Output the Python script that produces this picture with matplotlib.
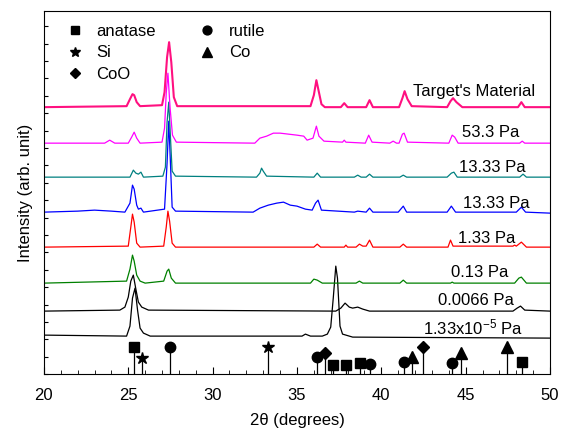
import matplotlib
matplotlib.use('Agg')
import matplotlib.pyplot as plt
from matplotlib.lines import Line2D
from matplotlib.ticker import MultipleLocator

plt.rcParams['font.family'] = ['Liberation Sans', 'DejaVu Sans']
plt.rcParams['mathtext.fontset'] = 'custom'
plt.rcParams['mathtext.rm'] = 'Liberation Sans'
plt.rcParams['mathtext.it'] = 'Liberation Sans:italic'

# patterns, top to bottom; intensity in arbitrary units above each baseline
labels = ["Target's Material", '53.3 Pa', '13.33 Pa', '13.33 Pa', '1.33 Pa',
          '0.13 Pa', '0.0066 Pa', '1.33x10$^{-5}$ Pa']
offsets = [267, 231, 197, 161, 127, 91, 63, 36]

target_x = [20, 24.9, 25.1, 25.25, 25.35, 25.5, 25.7, 27.0, 27.15, 27.3, 27.42, 27.55, 27.7, 27.9,
            35.8, 36.0, 36.15, 36.3, 36.45, 36.65, 37.6, 37.8, 38.0, 39.1, 39.3, 39.5,
            41.05, 41.25, 41.38, 41.55, 41.8, 43.9, 44.1, 44.25, 44.45, 44.8, 48.1, 48.3, 48.5, 50]
target_y = [0, 1, 8, 13, 12, 5, 1, 2, 15, 50, 65, 45, 10, 1,
            1, 12, 27, 15, 3, 0, 0, 4, 0, 0, 7, 0,
            0, 9, 16, 8, 1, 0, 6, 9, 5, 0, 0, 5, 0, 0]

p533_x = [20, 23.6, 23.9, 24.2, 25.0, 25.2, 25.35, 25.5, 25.7, 27.0, 27.15, 27.25, 27.35, 27.48, 27.62, 27.85,
          32.5, 32.8, 33.2, 33.6, 34.0, 34.5, 35.0, 35.4, 35.6, 35.95, 36.15, 36.3, 36.6,
          37.7, 37.8, 37.9, 39.05, 39.25, 39.45, 40.5, 40.7, 40.9, 41.05, 41.25, 41.35, 41.55,
          44.0, 44.2, 44.35, 44.55, 48.2, 48.35, 48.5, 50]
p533_y = [0, 0, 3, 0, 0, 6, 11, 5, 0, 1, 15, 50, 70, 35, 8, 1,
          0, 5, 7, 10, 10, 9, 8, 7, 3, 5, 17, 7, 2,
          1, 3, 1, 0, 8, 1, 0, 2, 0, 0, 9, 10, 1,
          0, 8, 6, 0, 0, 2, 0, 0]

p1333a_x = [20, 25.1, 25.3, 25.45, 25.6, 25.75, 25.9, 27.05, 27.2, 27.3, 27.4, 27.5, 27.6, 27.8,
            32.6, 32.8, 32.9, 33.0, 33.2, 36.0, 36.2, 36.4, 38.4, 38.6, 38.8, 39.1, 39.3, 39.5,
            41.1, 41.3, 41.5, 43.9, 44.15, 44.3, 44.5, 48.2, 48.4, 48.6, 50]
p1333a_y = [0, 0, 7, 4, 3, 5, 0, 1, 10, 55, 75, 40, 6, 1,
            0, 4, 9, 6, 1, 0, 4, 0, 0, 2, 0, 0, 3, 0,
            0, 2, 0, 0, 4, 5, 0, 0, 3, 0, 0]

p1333b_x = [20, 22.0, 23.0, 24.0, 24.8, 25.1, 25.25, 25.35, 25.5, 25.6, 25.75, 25.9,
            27.15, 27.3, 27.4, 27.5, 27.6, 27.8, 32.4, 32.8, 33.3, 33.8, 34.2, 34.6, 35.0, 35.5,
            35.9, 36.1, 36.25, 36.45, 38.4, 38.6, 39.1, 39.3, 39.5, 41.0, 41.3, 41.5,
            43.9, 44.15, 44.4, 48.0, 48.3, 48.55, 50]
p1333b_y = [1, 2, 3, 2, 1, 10, 28, 24, 8, 4, 5, 1,
            4, 50, 92, 50, 6, 2, 1, 5, 8, 10, 11, 8, 7, 4,
            3, 10, 13, 3, 1, 2, 1, 5, 1, 1, 7, 1,
            1, 7, 1, 1, 6, 1, 0]

p133_x = [20, 25.0, 25.15, 25.25, 25.35, 25.5, 25.7, 27.1, 27.25, 27.35, 27.45, 27.6, 27.8,
          36.0, 36.2, 36.4, 37.8, 37.9, 38.0, 38.5, 38.7, 38.9, 39.1, 39.3, 39.5,
          41.1, 41.3, 41.5, 43.95, 44.1, 44.25, 47.8, 47.9, 48.0, 48.3, 48.6, 50]
p133_y = [0, 1, 20, 33, 25, 4, 0, 1, 20, 36, 26, 4, 0,
          0, 3, 0, 0, 2, 0, 0, 3, 1, 1, 7, 0,
          0, 3, 0, 0, 7, 1, 1, 2, 1, 5, 0, 0]

p013_x = [20, 24.9, 25.1, 25.25, 25.35, 25.5, 25.7, 26.0, 27.1, 27.3, 27.4, 27.55, 27.8,
          35.8, 36.0, 36.2, 36.5, 38.5, 38.7, 38.9, 41.1, 41.3, 41.5, 44.1, 44.2, 44.3,
          47.9, 48.15, 48.3, 48.6, 50]
p013_y = [0, 2, 14, 28, 22, 8, 2, 0, 2, 12, 14, 5, 0,
          0, 4, 3, 0, 0, 2, 0, 0, 3, 0, 0, 1, 0,
          0, 5, 6, 0, 0]

p0066_x = [20, 24.5, 24.8, 25.0, 25.15, 25.3, 25.45, 25.6, 25.8, 26.2,
           37.3, 37.6, 37.85, 38.1, 38.3, 38.6, 38.9, 39.3, 47.8, 48.05, 48.25, 48.5, 50]
p0066_y = [0, 1, 4, 14, 30, 36, 22, 9, 4, 1,
           0, 3, 8, 4, 3, 4, 2, 0, 0, 3, 5, 1, 0]

p133e5_x = [20, 24.9, 25.1, 25.25, 25.4, 25.55, 25.7, 25.9, 26.3, 35.3, 35.5, 35.8,
            36.5, 36.8, 37.0, 37.15, 37.3, 37.4, 37.55, 37.7, 37.9, 38.3, 50]
p133e5_y = [3, 2, 12, 40, 50, 28, 10, 5, 2, 2, 4, 2,
            2, 4, 11, 40, 72, 60, 12, 4, 3, 1, 0]

series_x = [target_x, p533_x, p1333a_x, p1333b_x, p133_x, p013_x, p0066_x, p133e5_x]
series_y = [target_y, p533_y, p1333a_y, p1333b_y, p133_y, p013_y, p0066_y, p133e5_y]
colors = ['#ff1080', '#ff00ff', '#008080', '#0000ff', '#ff0000', '#008000', 'black', 'black']
label_x = [41.87, 44.78, 44.6, 44.84, 44.54, 44.13, 43.36, 42.47]
label_y = [283, 242, 207, 171, 136, 102, 74, 47]

# reference lines (phase: positions, marker heights)
anatase_pos = [25.33, 37.13, 37.9, 38.73, 48.33]
anatase_h = [27, 9, 9, 11, 12]
rutile_pos = [27.47, 36.18, 39.32, 41.34, 44.18]
rutile_h = [27, 17, 10, 12, 11]
si_pos = [25.8, 33.28]
si_h = [16, 27]
coo_pos = [36.66, 42.47]
coo_h = [21, 27]
co_pos = [41.81, 44.72, 47.45]
co_h = [17, 21, 27]

fig = plt.figure(figsize=(5.63, 4.30), dpi=100)
ax = fig.add_axes([0.078, 0.130, 0.899, 0.844])

for xs, ys, off, c in reversed(list(zip(series_x, series_y, offsets, colors))):
    lw = 1.5 if c == '#ff1080' else 0.9
    ax.plot(xs, [v + off for v in ys], color=c, lw=lw)

for lab, lx, ly in zip(labels, label_x, label_y):
    ax.text(lx, ly, lab, fontsize=12, ha='left', va='center')

refs = [(anatase_pos, anatase_h, 's', 'anatase'), (si_pos, si_h, '*', 'Si'),
        (coo_pos, coo_h, 'D', 'CoO'), (rutile_pos, rutile_h, 'o', 'rutile'),
        (co_pos, co_h, '^', 'Co')]
sizes = {'s': 7, '*': 9, 'D': 6.5, 'o': 7.5, '^': 8}
handles = []
for pos, h, m, name in refs:
    ax.vlines(pos, 0, h, color='black', lw=0.9)
    ax.plot(pos, h, ls='none', marker=m, color='black', ms=sizes[m])
    handles.append(Line2D([], [], ls='none', marker=m, color='black', ms=sizes[m] * 0.85, label=name))

ax.legend(handles=handles, ncol=2, loc='upper left', frameon=False, fontsize=12,
          handlelength=1.0, handletextpad=0.8, columnspacing=2.6, labelspacing=0.38,
          borderaxespad=0.0, bbox_to_anchor=(0.031, 0.983))

ax.set_xlim(20, 50)
ax.set_ylim(0, 363)
ax.xaxis.set_major_locator(MultipleLocator(5))
ax.xaxis.set_minor_locator(MultipleLocator(1))
ax.yaxis.set_major_locator(MultipleLocator(17.4))
ax.tick_params(axis='x', which='major', direction='in', length=5, top=False, labelsize=12, pad=10)
ax.tick_params(axis='x', which='minor', direction='in', length=3, top=False)
ax.tick_params(axis='y', which='both', direction='in', length=3, right=False, labelleft=False)
ax.set_xlabel('2θ (degrees)', fontsize=12, labelpad=7)
ax.set_ylabel('Intensity (arb. unit)', fontsize=12, labelpad=8)

fig.savefig('out.png', dpi=100)
